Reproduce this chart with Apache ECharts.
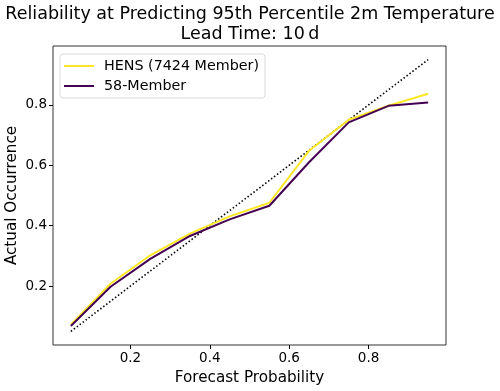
<!DOCTYPE html>
<html>
<head>
<meta charset="utf-8">
<script src="https://cdn.jsdelivr.net/npm/echarts@6/dist/echarts.min.js"></script>
<style>
  html, body { margin: 0; padding: 0; background: #fff; }
  #chart { width: 500px; height: 391px; }
</style>
</head>
<body>
<div id="chart"></div>
<script>
// forecast probability bins
const probs = [0.05, 0.15, 0.25, 0.35, 0.45, 0.55, 0.65, 0.75, 0.85, 0.95];
const hens = [0.072, 0.208, 0.302, 0.374, 0.431, 0.476, 0.648, 0.751, 0.797, 0.837];
const member58 = [0.068, 0.198, 0.290, 0.366, 0.421, 0.466, 0.610, 0.742, 0.797, 0.808];
const perfect = [0.05, 0.95];
const tickVals = [0.2, 0.4, 0.6, 0.8];

const font = 'DejaVu Sans';
const chart = echarts.init(document.getElementById('chart'));

function pairs(xs, ys) {
  return xs.map((x, i) => [x, ys[i]]);
}

const option = {
  animation: false,
  textStyle: { fontFamily: font },
  title: {
    text: 'Reliability at Predicting 95th Percentile 2m Temperature\nLead Time: 10\u2009d',
    left: 'center',
    top: -1,
    textStyle: { fontFamily: font, fontSize: 17.5, fontWeight: 'normal', color: '#000', lineHeight: 20 }
  },
  legend: {
    data: ['HENS (7424 Member)', '58-Member'],
    orient: 'vertical',
    left: 60,
    top: 54,
    itemWidth: 30,
    itemHeight: 2,
    itemGap: 6,
    padding: [5, 6, 5, 4],
    borderColor: '#d9d9d9',
    borderWidth: 1,
    borderRadius: 3,
    icon: 'rect',
    textStyle: { fontFamily: font, fontSize: 14.3, color: '#000', padding: [0, 0, 0, 5] }
  },
  grid: {
    left: 53, right: 54, top: 46, bottom: 46,
    outerBoundsMode: 'none',
    containLabel: false,
    show: true, borderColor: '#333', borderWidth: 1, backgroundColor: 'transparent'
  },
  xAxis: {
    type: 'value',
    min: 0.005, max: 0.995,
    name: 'Forecast Probability',
    nameLocation: 'middle',
    nameGap: 26,
    nameMoveOverlap: false,
    nameTextStyle: { fontFamily: font, fontSize: 15.2, color: '#000' },
    axisLine: { show: false },
    axisTick: { show: true, length: 4, inside: false, customValues: tickVals, lineStyle: { color: '#000' } },
    axisLabel: { customValues: tickVals, fontSize: 13.5, color: '#000', margin: 6, formatter: v => v.toFixed(1) },
    splitLine: { show: false }
  },
  yAxis: {
    type: 'value',
    min: 0.005, max: 0.995,
    name: 'Actual Occurrence',
    nameLocation: 'middle',
    nameGap: 33,
    nameMoveOverlap: false,
    nameTextStyle: { fontFamily: font, fontSize: 15.2, color: '#000' },
    axisLine: { show: false },
    axisTick: { show: true, length: 4, inside: false, customValues: tickVals, lineStyle: { color: '#000' } },
    axisLabel: { customValues: tickVals, fontSize: 13.5, color: '#000', margin: 6, formatter: v => v.toFixed(1) },
    splitLine: { show: false }
  },
  series: [
    {
      name: 'perfect',
      type: 'line',
      data: pairs(perfect, perfect),
      showSymbol: false,
      lineStyle: { color: '#000', width: 1.6, type: [1.5, 2.2] },
      z: 1
    },
    {
      name: 'HENS (7424 Member)',
      type: 'line',
      data: pairs(probs, hens),
      showSymbol: false,
      itemStyle: { color: '#fde725' },
      lineStyle: { color: '#fde725', width: 2 },
      z: 2
    },
    {
      name: '58-Member',
      type: 'line',
      data: pairs(probs, member58),
      showSymbol: false,
      itemStyle: { color: '#440154' },
      lineStyle: { color: '#440154', width: 2 },
      z: 3
    }
  ]
};

chart.setOption(option);
</script>
</body>
</html>
